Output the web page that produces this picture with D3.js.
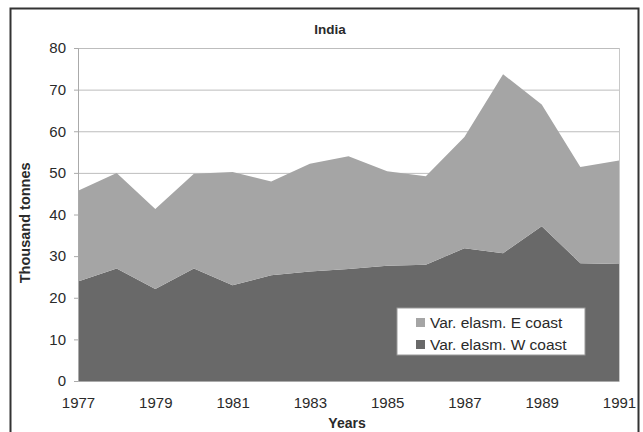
<!DOCTYPE html>
<html>
<head>
<meta charset="utf-8">
<script src="https://cdn.jsdelivr.net/npm/d3@7"></script>
<style>
  body { margin: 0; background: #fff; }
  text { font-family: "Liberation Sans", Arial, sans-serif; fill: #2a2a2a; }
</style>
</head>
<body>
<div id="canvas"></div>
<script>
// data (thousand tonnes)
var years = [1977, 1978, 1979, 1980, 1981, 1982, 1983, 1984, 1985, 1986, 1987, 1988, 1989, 1990, 1991];
var wCoast = [23.9, 27.0, 22.1, 27.0, 23.0, 25.4, 26.3, 26.9, 27.7, 27.9, 31.9, 30.7, 37.2, 28.3, 28.1];
var totals = [45.7, 50.0, 41.3, 49.8, 50.2, 47.9, 52.2, 54.0, 50.4, 49.2, 58.6, 73.7, 66.4, 51.4, 53.0];
var eCoast = totals.map(function (t, i) { return +(t - wCoast[i]).toFixed(1); });
var seriesNames = ["Var. elasm. W coast", "Var. elasm. E coast"];
var xTicks = [1977, 1979, 1981, 1983, 1985, 1987, 1989, 1991];
var yTicks = [0, 10, 20, 30, 40, 50, 60, 70, 80];

var colors = { "Var. elasm. W coast": "#696969", "Var. elasm. E coast": "#a5a5a5" };

var width = 643, height = 432;
var margin = { left: 78, right: 24, top: 48, bottom: 51 };

var svg = d3.select("#canvas").append("svg")
    .attr("width", width)
    .attr("height", height);

// outer frame
svg.append("rect")
    .attr("x", 10.5).attr("y", 8.5)
    .attr("width", 628).attr("height", 430)
    .attr("fill", "none")
    .attr("stroke", "#333")
    .attr("stroke-width", 2);

var x = d3.scaleLinear().domain([1977, 1991]).range([margin.left, width - margin.right]);
var y = d3.scaleLinear().domain([0, 80]).range([height - margin.bottom, margin.top]);

// gridlines
svg.append("g").selectAll("line")
    .data(yTicks.slice(1))
    .enter().append("line")
    .attr("x1", x(1977)).attr("x2", x(1991))
    .attr("y1", function (d) { return y(d) + 0.5; })
    .attr("y2", function (d) { return y(d) + 0.5; })
    .attr("stroke", "#bdbdbd")
    .attr("stroke-width", 1);

// plot area border (right side)
svg.append("line")
    .attr("x1", x(1991) + 0.5).attr("x2", x(1991) + 0.5)
    .attr("y1", y(80)).attr("y2", y(0))
    .attr("stroke", "#c8c8c8");

var rows = years.map(function (yr, i) {
    return { year: yr, "Var. elasm. W coast": wCoast[i], "Var. elasm. E coast": eCoast[i] };
});
var stacked = d3.stack().keys(seriesNames)(rows);

var area = d3.area()
    .x(function (d) { return x(d.data.year); })
    .y0(function (d) { return y(d[0]); })
    .y1(function (d) { return y(d[1]); });

svg.append("g").selectAll("path")
    .data(stacked)
    .enter().append("path")
    .attr("d", area)
    .attr("fill", function (d) { return colors[d.key]; });

// y axis
var yAxis = svg.append("g")
    .attr("transform", "translate(" + margin.left + ",0)")
    .call(d3.axisLeft(y).tickValues(yTicks).tickSize(4).tickPadding(8));
yAxis.select(".domain").attr("stroke", "#aaa");
yAxis.selectAll(".tick line").attr("stroke", "#aaa");
yAxis.selectAll("text").style("font-size", "15px").attr("fill", "#2a2a2a");

// x axis
var xAxis = svg.append("g")
    .attr("transform", "translate(0," + y(0) + ")")
    .call(d3.axisBottom(x).tickValues(xTicks).tickFormat(d3.format("d")).tickSize(0).tickPadding(16));
xAxis.select(".domain").attr("stroke", "#aaa");
xAxis.selectAll("text").style("font-size", "15px").attr("fill", "#2a2a2a");

// titles
svg.append("text")
    .attr("x", 330).attr("y", 34)
    .attr("text-anchor", "middle")
    .style("font-size", "13.5px")
    .style("font-weight", "bold")
    .text("India");

svg.append("text")
    .attr("x", 347).attr("y", 428)
    .attr("text-anchor", "middle")
    .style("font-size", "14px")
    .style("font-weight", "bold")
    .text("Years");

svg.append("text")
    .attr("transform", "translate(30," + y(38) + ") rotate(-90)")
    .attr("text-anchor", "middle")
    .style("font-size", "14.5px")
    .style("font-weight", "bold")
    .text("Thousand tonnes");

// legend
var legend = svg.append("g").attr("transform", "translate(397,308)");
legend.append("rect")
    .attr("width", 188).attr("height", 47)
    .attr("fill", "#fff")
    .attr("stroke", "#999");

var legendItems = ["Var. elasm. E coast", "Var. elasm. W coast"];
var li = legend.selectAll(".item")
    .data(legendItems)
    .enter().append("g")
    .attr("class", "item")
    .attr("transform", function (d, i) { return "translate(19," + (14 + i * 22) + ")"; });
li.append("rect")
    .attr("x", 0).attr("y", -4)
    .attr("width", 9).attr("height", 9)
    .attr("fill", function (d) { return colors[d]; });
li.append("text")
    .attr("x", 14).attr("y", 6)
    .style("font-size", "15.5px")
    .text(function (d) { return d; });
</script>
</body>
</html>
